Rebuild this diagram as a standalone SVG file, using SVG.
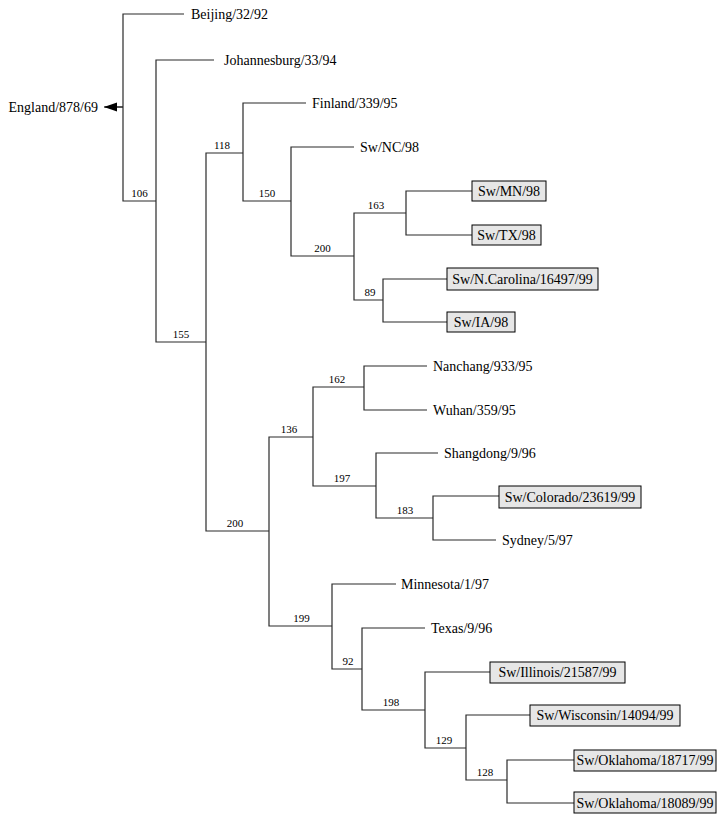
<svg xmlns="http://www.w3.org/2000/svg" width="726" height="822" viewBox="0 0 726 822">
<defs>
<marker id="arr" markerUnits="userSpaceOnUse" markerWidth="14" markerHeight="10" refX="13" refY="4.5" orient="auto">
<path d="M0,0 L13,4.5 L0,9 Z" fill="#000"/>
</marker>
<style>
.e{fill:none;stroke:#2a2a2a;stroke-width:1.2}
.leaf{font-family:"Liberation Serif","Times New Roman",serif;font-size:14px;fill:#000}
.bs{font-family:"Liberation Serif","Times New Roman",serif;font-size:11px;fill:#000;text-anchor:middle}
.box{fill:#e6e6e6;stroke:#000;stroke-width:1}
.c{text-anchor:middle}
</style>
</defs>
<rect width="726" height="822" fill="#fff"/>
<g id="connectors">
<path class="e" d="M184,14 H123 V201 H156 M123,107 H105"/>
<path class="e" d="M123,107 H104" marker-end="url(#arr)"/>
<path class="e" d="M214,60 H156 V342 H206"/>
<path class="e" d="M243,153 H206 V531 H269"/>
<path class="e" d="M306,103 H243 V201 H291"/>
<path class="e" d="M354,147 H291 V256 H354"/>
<path class="e" d="M406,213 H354 V300 H383"/>
<path class="e" d="M472,191 H406 V235 H472"/>
<path class="e" d="M447,279 H383 V322 H447"/>
<path class="e" d="M313,437 H269 V626 H332"/>
<path class="e" d="M364,387 H313 V486 H376"/>
<path class="e" d="M427,366 H364 V410 H427"/>
<path class="e" d="M438,453 H376 V518 H433"/>
<path class="e" d="M499,496 H433 V540 H496"/>
<path class="e" d="M396,584 H332 V669 H362"/>
<path class="e" d="M425,628 H362 V710 H425"/>
<path class="e" d="M490,672 H425 V748 H466"/>
<path class="e" d="M530,715 H466 V780 H507"/>
<path class="e" d="M574,760 H507 V803 H574"/>
</g>
<g id="n-england"><text class="leaf" x="98" y="112" text-anchor="end">England/878/69</text></g>
<g id="n-beijing"><text class="leaf" x="191" y="19">Beijing/32/92</text></g>
<g id="n-johannesburg"><text class="leaf" x="224" y="65">Johannesburg/33/94</text></g>
<g id="n-finland"><text class="leaf" x="312" y="108">Finland/339/95</text></g>
<g id="n-swnc"><text class="leaf" x="360" y="152">Sw/NC/98</text></g>
<g id="n-swmn"><rect class="box" x="472" y="181" width="74" height="20"/><text class="leaf c" x="509" y="196">Sw/MN/98</text></g>
<g id="n-swtx"><rect class="box" x="472" y="225" width="69" height="20"/><text class="leaf c" x="506.5" y="240">Sw/TX/98</text></g>
<g id="n-swncarolina"><rect class="box" x="447" y="268" width="151" height="22"/><text class="leaf c" x="522.5" y="284">Sw/N.Carolina/16497/99</text></g>
<g id="n-swia"><rect class="box" x="447" y="312" width="68" height="20"/><text class="leaf c" x="481" y="327">Sw/IA/98</text></g>
<g id="n-nanchang"><text class="leaf" x="433" y="371">Nanchang/933/95</text></g>
<g id="n-wuhan"><text class="leaf" x="433" y="415">Wuhan/359/95</text></g>
<g id="n-shangdong"><text class="leaf" x="444" y="458">Shangdong/9/96</text></g>
<g id="n-swcolorado"><rect class="box" x="499" y="486" width="142" height="22"/><text class="leaf c" x="570" y="502">Sw/Colorado/23619/99</text></g>
<g id="n-sydney"><text class="leaf" x="502" y="545">Sydney/5/97</text></g>
<g id="n-minnesota"><text class="leaf" x="401" y="589">Minnesota/1/97</text></g>
<g id="n-texas"><text class="leaf" x="431" y="633">Texas/9/96</text></g>
<g id="n-swillinois"><rect class="box" x="490" y="662" width="135" height="21"/><text class="leaf c" x="557.5" y="677">Sw/Illinois/21587/99</text></g>
<g id="n-swwisconsin"><rect class="box" x="530" y="705" width="150" height="21"/><text class="leaf c" x="605" y="720">Sw/Wisconsin/14094/99</text></g>
<g id="n-swoklahoma18717"><rect class="box" x="574" y="750" width="142" height="21"/><text class="leaf c" x="645" y="765">Sw/Oklahoma/18717/99</text></g>
<g id="n-swoklahoma18089"><rect class="box" x="574" y="792" width="142" height="21"/><text class="leaf c" x="645" y="808">Sw/Oklahoma/18089/99</text></g>
<g id="b106"><text class="bs" x="139.5" y="197">106</text></g>
<g id="b155"><text class="bs" x="181" y="338">155</text></g>
<g id="b118"><text class="bs" x="222" y="149">118</text></g>
<g id="b150"><text class="bs" x="267" y="197">150</text></g>
<g id="b200a"><text class="bs" x="322.5" y="252">200</text></g>
<g id="b163"><text class="bs" x="376" y="209">163</text></g>
<g id="b89"><text class="bs" x="370" y="296">89</text></g>
<g id="b200b"><text class="bs" x="235" y="527">200</text></g>
<g id="b136"><text class="bs" x="289" y="433">136</text></g>
<g id="b162"><text class="bs" x="337" y="383">162</text></g>
<g id="b197"><text class="bs" x="342" y="482">197</text></g>
<g id="b183"><text class="bs" x="405" y="514">183</text></g>
<g id="b199"><text class="bs" x="301.5" y="622">199</text></g>
<g id="b92"><text class="bs" x="348" y="665">92</text></g>
<g id="b198"><text class="bs" x="391" y="706">198</text></g>
<g id="b129"><text class="bs" x="444" y="744">129</text></g>
<g id="b128"><text class="bs" x="485" y="776">128</text></g>
</svg>
